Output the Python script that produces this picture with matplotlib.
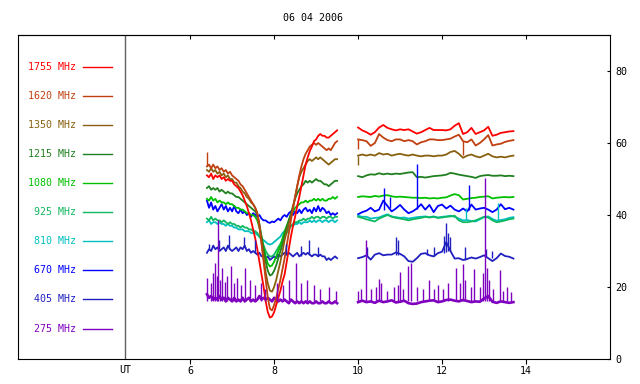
import matplotlib
matplotlib.use('Agg')
import matplotlib.pyplot as plt
import numpy as np

# channels, top to bottom in the legend
labels = ['1755 MHz', '1620 MHz', '1350 MHz', '1215 MHz', '1080 MHz',
          '925 MHz', '810 MHz', '670 MHz', '405 MHz', '275 MHz']
colors = ['#ff0000', '#c04010', '#886010', '#208020', '#00c000',
          '#10b860', '#00c0c0', '#0000ff', '#2020c0', '#8000c0']

# sampling grids (UT hours)
t_am = np.round(np.arange(6.40, 9.501, 0.05), 2)
t_pm = np.round(np.arange(10.0, 13.701, 0.1), 2)

# morning segment (6.40 .. 9.50)
f1755_am = [51, 50.5, 51.5, 50, 51, 50.5, 51, 50, 50.5, 49.5, 50, 49.5, 49.5, 48.5, 48, 47.5,
            46.5, 45.5, 44, 42.5, 40.5, 38.5, 36, 33.5, 30.5, 27, 23.5, 20, 16, 13, 11.5, 11.8,
            13, 15, 17, 19, 21.5, 23.5, 27, 30.5, 34, 37, 39.5, 42.5, 45, 48, 51, 54, 56, 57.8,
            59, 60.5, 61, 62, 62.5, 62, 62, 61.5, 61.5, 62, 62.5, 63, 63.5]
f1620_am = [53.5, 54, 53, 54, 53, 53.5, 52.5, 53, 52, 52.5, 51.5, 52, 51, 50.5, 50, 49.5,
            48.5, 48, 47, 46, 45, 44, 43, 42, 40.5, 37, 32, 27, 22, 17, 14, 13.5,
            15, 17, 19.5, 22, 25, 28, 31.5, 35, 38.5, 42, 45, 48, 51, 53.5, 55.5, 57, 58, 59,
            59.5, 60, 59.5, 60, 59.5, 59, 58.5, 58, 58.5, 58, 59, 60, 60.5]
f1350_am = [52.5, 52, 53, 52, 52.5, 51.5, 52, 51, 51.5, 50.5, 51, 50, 50, 49, 49, 48,
            47.5, 46.5, 46, 45, 44.5, 43.5, 43, 42, 40.5, 37, 32.5, 28, 24, 21, 19, 18.7,
            20, 22, 24.5, 27, 30, 33, 35.5, 37.5, 39.5, 42, 45, 48, 50.5, 52, 53, 54, 55, 55.5,
            55, 55.5, 56, 55.5, 56, 55.5, 55, 54.5, 54, 54.5, 55, 55.5, 55.5]
f1215_am = [47.5, 48, 47, 47.5, 47, 47.5, 46.5, 47, 46.5, 46, 46.5, 46, 46, 45.5, 45, 45,
            44.5, 44, 43.5, 43, 42.5, 42, 41.5, 41, 40, 37.5, 34, 30.5, 27, 24.5, 23.2, 23.5,
            24.5, 26, 28, 30, 32, 34.5, 36.5, 38.5, 40.5, 42.5, 44.5, 46, 47, 48, 48.5, 49.5, 49, 49.5,
            49, 49.5, 50, 49.5, 49.5, 49, 48.5, 48.5, 48, 48.5, 49, 49.5, 49.5]
f1080_am = [44.5, 44, 45, 44, 44.5, 43.5, 44, 43.5, 43.5, 43, 43.5, 43, 43, 42.5, 42, 42,
            41.5, 41.5, 41, 40.5, 40.5, 40, 40, 39.5, 38.5, 36.5, 34, 31, 28.5, 26.5, 25.7, 26,
            27, 28.5, 30, 31.5, 33.5, 35.5, 37, 38.5, 40, 41, 42, 42.5, 43, 43.5, 43.5, 44, 43.5, 44,
            44, 44.5, 44, 44.5, 44, 44.5, 44, 44, 44.5, 44.5, 45, 44.5, 45]
f925_am = [39, 38.5, 39.5, 38.5, 39, 38.5, 38.5, 38, 38.5, 38, 37.5, 38, 37.5, 37.5, 37, 37,
           36.5, 37, 36.5, 36.5, 36, 36, 35.5, 35.5, 35, 34, 33, 31.5, 30, 29, 28.5, 28.5,
           29, 30, 31, 32, 33, 34, 35, 36, 37, 37.5, 38, 38, 38.5, 38.5, 39, 38.5, 39, 39,
           39.5, 39, 39.5, 39.5, 39, 39.5, 39.5, 39, 39.5, 39.5, 39, 39.5, 39.5]
f810_am = [38, 38.5, 37.5, 38, 38, 37.5, 38, 37.5, 37.5, 37, 37.5, 37, 37, 36.5, 36.5, 36,
           36, 36, 35.5, 35.5, 35.5, 35, 35, 35, 34.5, 34, 33.5, 33, 32.5, 32, 31.8, 32,
           32.5, 33, 33.5, 34, 35, 35.5, 36, 36.5, 37, 37, 37.5, 37.5, 38, 37.5, 38, 38, 38, 38.5,
           38, 38.5, 38, 38.5, 38.5, 38, 38.5, 38.5, 38, 38.5, 38.5, 38, 38.5]
f670_am = [44, 42, 43.5, 41.5, 42.5, 41, 42, 43, 41.5, 42.5, 41, 42, 41, 42.5, 41, 40.5,
           41.5, 40.5, 41, 40, 40.5, 39.5, 40.5, 40, 39.5, 40, 39, 38.5, 38.5, 38, 37.8, 38.2,
           38, 38.5, 39, 38.5, 39.5, 40, 39.5, 40.5, 41, 40, 41, 40.5, 41.5, 40.5, 41.5, 42, 41, 41.5,
           40.5, 42, 41, 42.5, 41, 42, 41.5, 40.5, 41, 40, 40.5, 40, 40.5]
f405_am = [29.5, 30.5, 30, 31.5, 30.5, 31, 30, 30.5, 31, 30, 31.5, 30.5, 30, 30.5, 31, 30,
           31, 30.5, 31.5, 30, 30.5, 29.5, 30, 29.5, 29, 29.5, 28.5, 29, 28, 28.5, 27.5, 28,
           28.5, 28, 29, 28.5, 29, 29.5, 29, 29.5, 29, 28.5, 29, 29.5, 28.5, 29, 29.5, 29, 29.5, 29,
           28.5, 29, 29, 28.5, 29, 28.5, 28.5, 27.5, 28, 27.5, 28, 28.5, 28]
f275_am = [18, 17, 17.5, 16.5, 17, 16.5, 17.5, 16.5, 17, 16, 17, 16.5, 16, 17, 16, 16.5,
           16, 17, 16, 16.5, 17, 16, 16.5, 16, 16.5, 17.5, 16.5, 17, 16.5, 17, 16.5, 16,
           17, 16.5, 16, 16.5, 16, 16.5, 16, 15.5, 16.5, 16, 15.5, 16, 15.5, 16, 15.5, 16, 15.5, 16,
           15.5, 15.5, 16, 15.5, 15.5, 16, 15.5, 15.5, 16, 15.5, 15.5, 16, 15.5]

# afternoon segment (10.0 .. 13.7)
f1755_pm = [64.3, 63.5, 63, 62.3, 63, 64.3, 65, 64.2, 63.8, 63.5, 63.8, 63.6, 63.8, 63.2, 62.6,
            63, 63.6, 64.2, 63.6, 63.6, 63.6, 63.5, 63.8, 64.8, 65.5, 62.5, 63, 64.2, 62.5, 63,
            63.5, 64.5, 62, 62.3, 62.8, 63, 63.2, 63.3]
f1620_pm = [61, 60.8, 60.5, 59.2, 60, 62.5, 61.5, 60.8, 60.5, 61, 61, 60.5, 60.8, 60.5, 59.6,
            60.2, 60.5, 61, 61, 60.8, 60.8, 61, 61.2, 61.8, 62.3, 60.5, 60.2, 61, 59.3, 60,
            61, 62.2, 59.3, 59.6, 59.8, 60.3, 60.6, 60.8]
f1350_pm = [56.5, 56.8, 56.5, 56.8, 56.5, 57.2, 56.8, 57, 56.5, 56.8, 57, 56.7, 56.5, 56.8, 56.5,
            56.3, 56.5, 56.5, 56.3, 56.5, 56.5, 56.8, 57.5, 57.8, 57, 55.9, 56.5, 56.8, 56.3, 56,
            56.5, 57, 56.3, 56, 56.2, 56, 56.3, 56.5]
f1215_pm = [50.8, 50.5, 51, 51.3, 51.2, 51.6, 51.3, 51.5, 51.3, 51.5, 51.4, 51.6, 51.8, 51.9, 50.5,
            50.6, 50.4, 50.6, 50.8, 50.9, 51, 51.2, 51.7, 51.5, 51.2, 51, 50.8, 50.6, 50.3, 50.8,
            51, 51.1, 50.9, 50.9, 51, 50.8, 50.9, 50.8]
f1080_pm = [45, 45.2, 45.1, 45, 45.3, 45.1, 45.4, 45.5, 45.2, 45, 45.1, 45, 44.9, 44.8, 44.8,
            44.7, 44.8, 44.6, 44.7, 44.6, 44.8, 44.9, 45.4, 45.8, 45.5, 44.3, 44.5, 44.7, 44.8, 45,
            45.1, 45.2, 44.6, 44.8, 44.9, 45, 44.9, 45]
f925_pm = [39.5, 39.2, 38.8, 38.5, 38.2, 39, 39.5, 40, 39.5, 39.2, 39, 38.8, 38.5, 38.8, 39,
           39.2, 39.5, 39.3, 39.5, 39.2, 39.3, 39.5, 39.6, 39.8, 38.5, 38, 38, 38.2, 38.5, 39,
           39.5, 39.3, 38.5, 38, 38.2, 38.5, 38.8, 39]
f810_pm = [39.8, 39.5, 39.5, 39, 39.2, 39.3, 39.8, 40.2, 39.6, 39.4, 39.2, 39.3, 39, 39.2, 39.4,
           39.5, 39.6, 39.4, 39.6, 39.3, 39.5, 39.6, 39.8, 39.5, 39, 38.5, 38.6, 38.3, 38.2, 38.8,
           39.4, 39.6, 38.9, 38.4, 38.6, 38.8, 39.2, 39.4]
f670_pm = [40.2, 40.8, 41.2, 42, 41, 41.5, 44, 42.5, 41, 41.8, 42.8, 41.5, 40.5, 41, 41.8,
           43, 41.5, 42.8, 40.8, 42.5, 42.9, 41.8, 42.6, 41.5, 41, 41.8, 41, 42.9, 41.5, 41.8,
           42, 41.5, 40.8, 41.5, 43, 41.6, 42, 41.5]
f405_pm = [28, 28.3, 28.8, 27.6, 29, 29.4, 28.8, 29, 29, 29.6, 29.2, 28.5, 27.2, 27, 28,
           29.2, 29.4, 28.8, 28.5, 29.4, 29.8, 32.5, 30, 27.9, 28, 27.5, 27.8, 28.2, 27.9, 28.3,
           28.8, 28, 27.2, 28, 29.3, 28.6, 28.4, 27.9]
f275_pm = [15.8, 16.2, 15.8, 16, 15.6, 16.2, 15.8, 16, 16.3, 15.7, 15.9, 16.2, 15.5, 15.3, 15.4,
           15.8, 16, 16.2, 16.3, 15.8, 16, 16.4, 16.5, 16.2, 16, 16.4, 16.1, 15.8, 16, 15.9,
           16.8, 17.5, 15.9, 15.6, 16, 15.8, 15.6, 15.8]

# short bursts / glitches: time, tip value, base value
spk1620_t = [6.40, 10.0, 12.5]
spk1620_y = [57.4, 58.2, 56.8]
spk1620_b = [53.5, 61, 60.5]
spk1350_t = [10.0]
spk1350_y = [54]
spk1350_b = [56.5]
spk670_t = [10.62, 10.75, 11.40, 12.63]
spk670_y = [47.6, 45, 54.3, 48.2]
spk670_b = [41.5, 42, 41.8, 41.5]
spk810_t = [12.58, 13.33]
spk810_y = [42, 43.3]
spk810_b = [38.6, 38.5]
spk405_t = [6.45, 6.68, 6.92, 7.28, 7.55, 8.28, 8.63, 8.83, 9.05,
            10.22, 10.9, 10.95, 11.65, 11.82, 12.05, 12.1, 12.15, 12.2, 12.55, 13.05, 13.2]
spk405_y = [32, 33, 34.5, 34, 33, 32, 31.5, 33, 31,
            31, 34, 33, 30.5, 31, 34.2, 37.7, 35, 34, 31, 30.5, 30]
spk405_b = [30.5, 30.5, 30.5, 31, 29.5, 29, 28.5, 29, 28.5,
            28.5, 29, 29, 29, 28.5, 29.5, 29.8, 30, 30, 27.5, 28.5, 28]
spk275_t = [6.40, 6.49, 6.55, 6.59, 6.63, 6.67, 6.72, 6.75, 6.82, 6.88, 6.98, 7.05, 7.12,
            7.22, 7.30, 7.42, 7.55, 7.68, 7.78, 8.08, 8.22, 8.35, 8.53, 8.65, 8.78, 8.95,
            9.10, 9.30, 9.48,
            10.0, 10.08, 10.18, 10.3, 10.42, 10.49, 10.55, 10.7, 10.85, 10.95, 11.0, 11.08,
            11.19, 11.25, 11.4, 11.55, 11.7, 11.8, 11.9, 12.02, 12.15, 12.33, 12.42, 12.49,
            12.55, 12.68, 12.77, 12.9, 12.98, 13.03, 13.07, 13.12, 13.22, 13.37, 13.45,
            13.55, 13.65]
spk275_y = [22.5, 21, 24, 26.7, 23, 38.5, 22, 25.2, 21.5, 23, 25.7, 21, 22.5,
            20.5, 25.2, 22, 20.5, 21, 19.5, 21, 20.5, 22, 26.7, 21, 22, 20.5,
            19.5, 20, 19,
            19, 19.5, 33.1, 19.5, 20, 22.2, 21, 19, 20, 20.6, 24.3, 19.5,
            25.7, 26.6, 20, 19.5, 22, 19.4, 20.5, 19.5, 21, 25.3, 21, 26.5,
            22, 20, 25, 20, 24, 50.4, 25.2, 22, 19.5, 24.7, 19,
            20, 18.5]

series_am = [f1755_am, f1620_am, f1350_am, f1215_am, f1080_am,
             f925_am, f810_am, f670_am, f405_am, f275_am]
series_pm = [f1755_pm, f1620_pm, f1350_pm, f1215_pm, f1080_pm,
             f925_pm, f810_pm, f670_pm, f405_pm, f275_pm]

mono = 'DejaVu Sans Mono'
fs = 7.2

fig = plt.figure(figsize=(6.4, 3.84), dpi=100)
ax = fig.add_axes([18/640, 25/384, 592/640, 324/384])
ax.set_xlim(1.9, 16.0)
ax.set_ylim(0, 90)

# draw low frequencies first so the red sits on top
for i in reversed(range(len(labels))):
    c = colors[i]
    w = 1.9 if i == 9 else 1.3
    ax.plot(t_am, series_am[i], color=c, lw=w)
    ax.plot(t_pm, series_pm[i], color=c, lw=w)

spikes = [(spk1620_t, spk1620_b, spk1620_y, colors[1]),
          (spk1350_t, spk1350_b, spk1350_y, colors[2]),
          (spk810_t, spk810_b, spk810_y, colors[6]),
          (spk670_t, spk670_b, spk670_y, colors[7]),
          (spk405_t, spk405_b, spk405_y, colors[8])]
for st, sb, sy, c in spikes:
    ax.vlines(st, sb, sy, color=c, lw=1.0)
ax.vlines(spk275_t, 16, spk275_y, color=colors[9], lw=1.0)

# legend panel on the left
for i, (lab, c) in enumerate(zip(labels, colors)):
    y = 81.1 - 8.07 * i
    ax.text(3.28, y, lab, color=c, ha='right', va='center', fontsize=fs, family=mono)
    ax.plot([3.45, 4.13], [y, y], color=c, lw=1.0)

ax.axvline(4.454, color='#606060', lw=1.0)

# axes styling
for s in ax.spines.values():
    s.set_linewidth(0.8)
ax.set_xticks([6, 8, 10, 12, 14])
ax.tick_params(axis='x', direction='out', length=3.4, width=0.8, pad=2, labelsize=fs)
ax.yaxis.tick_right()
ax.set_yticks([0, 20, 40, 60, 80])
ax.tick_params(axis='y', direction='in', length=2.5, width=0.8, pad=4, labelsize=fs)
for lbl in ax.get_xticklabels() + ax.get_yticklabels():
    lbl.set_family(mono)

top = ax.secondary_xaxis('top')
top.set_xticks([6, 8, 10, 12, 14])
top.tick_params(direction='in', length=3, width=0.8, labeltop=False)

ax.text(4.454, -0.034, 'UT', transform=ax.get_xaxis_transform(), ha='center', va='center',
        fontsize=fs, family=mono)
fig.text(313/640, 1 - 18/384, '06 04 2006', ha='center', va='center', fontsize=fs, family=mono)

fig.savefig('out.png', dpi=100)
